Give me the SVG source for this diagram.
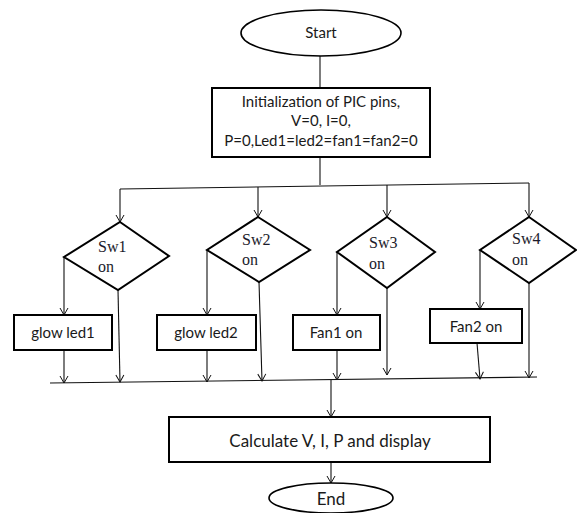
<svg xmlns="http://www.w3.org/2000/svg" width="577" height="513" viewBox="0 0 577 513">
<defs>
<marker id="arr" markerWidth="10" markerHeight="10" refX="5" refY="9" orient="auto" markerUnits="userSpaceOnUse" viewBox="0 0 10 10">
<polyline points="1,2 5,9 9,2" fill="none" stroke="#111" stroke-width="1"/>
</marker>
<marker id="arrv" markerWidth="10" markerHeight="10" refX="9" refY="5" orient="auto" markerUnits="userSpaceOnUse" viewBox="0 0 10 10">
<polyline points="2,1 9,5 2,9" fill="none" stroke="#111" stroke-width="1"/>
</marker>
</defs>
<style>
.shape{fill:#fff;stroke:#000;stroke-width:2}
.term{fill:#fff;stroke:#000;stroke-width:1.6}
.conn{fill:none;stroke:#111;stroke-width:1.1}
.sans{font-family:Lato,"Liberation Sans",sans-serif;fill:#1a1a1a}
.serif{font-family:"Liberation Serif","Times New Roman",serif;fill:#1a1a2a;font-size:16px}
</style>
<rect width="577" height="513" fill="#fff"/>
<g id="connectors">
<line class="conn" x1="320" y1="56" x2="320" y2="88"/>
<line class="conn" x1="320" y1="157" x2="320" y2="185"/>
<polyline class="conn" points="120,189 529,183"/>
<line class="conn" x1="120" y1="189" x2="120" y2="222" marker-end="url(#arrv)"/>
<line class="conn" x1="258" y1="187" x2="258" y2="217" marker-end="url(#arrv)"/>
<line class="conn" x1="387" y1="185" x2="387" y2="217" marker-end="url(#arrv)"/>
<line class="conn" x1="529" y1="183" x2="529" y2="217" marker-end="url(#arrv)"/>
<line class="conn" x1="64" y1="257" x2="64" y2="315" marker-end="url(#arrv)"/>
<line class="conn" x1="207" y1="250" x2="207" y2="315" marker-end="url(#arrv)"/>
<line class="conn" x1="337" y1="252" x2="337" y2="315" marker-end="url(#arrv)"/>
<line class="conn" x1="480" y1="250" x2="480" y2="309" marker-end="url(#arrv)"/>
<line class="conn" x1="118" y1="290" x2="120" y2="382" marker-end="url(#arrv)"/>
<line class="conn" x1="259" y1="282" x2="262" y2="381" marker-end="url(#arrv)"/>
<line class="conn" x1="387" y1="288" x2="387" y2="375" marker-end="url(#arrv)"/>
<line class="conn" x1="529" y1="283" x2="529" y2="378" marker-end="url(#arrv)"/>
<line class="conn" x1="64" y1="350" x2="64" y2="383" marker-end="url(#arrv)"/>
<line class="conn" x1="207" y1="350" x2="207" y2="382" marker-end="url(#arrv)"/>
<line class="conn" x1="337" y1="350" x2="337" y2="380" marker-end="url(#arrv)"/>
<line class="conn" x1="477" y1="343" x2="480" y2="379" marker-end="url(#arrv)"/>
<polyline class="conn" points="50,383 537,377"/>
<line class="conn" x1="331" y1="380" x2="331" y2="417" marker-end="url(#arrv)"/>
<line class="conn" x1="331" y1="462" x2="331" y2="483" marker-end="url(#arrv)"/>
</g>
<g id="start">
<ellipse class="term" cx="321" cy="33" rx="80" ry="23"/>
<text class="sans" x="321" y="38" font-size="15" text-anchor="middle">Start</text>
</g>
<g id="init">
<rect class="shape" x="212" y="88" width="218" height="69"/>
<text class="sans" x="321" y="107" font-size="15" text-anchor="middle">Initialization  of PIC pins,</text>
<text class="sans" x="321" y="126" font-size="15" text-anchor="middle">V=0, I=0,</text>
<text class="sans" x="321" y="146" font-size="15" text-anchor="middle">P=0,Led1=led2=fan1=fan2=0</text>
</g>
<g id="sw1">
<polygon class="shape" points="120,222 169,256 118,290 64,257"/>
<text class="serif" x="98" y="252">Sw1</text>
<text class="serif" x="98" y="272">on</text>
</g>
<g id="sw2">
<polygon class="shape" points="258,217 310,250 259,282 207,250"/>
<text class="serif" x="242" y="245">Sw2</text>
<text class="serif" x="242" y="265">on</text>
</g>
<g id="sw3">
<polygon class="shape" points="387,217 435,252 387,288 337,252"/>
<text class="serif" x="369" y="248">Sw3</text>
<text class="serif" x="369" y="269">on</text>
</g>
<g id="sw4">
<polygon class="shape" points="529,217 576,250 529,283 480,250"/>
<text class="serif" x="512" y="244">Sw4</text>
<text class="serif" x="512" y="265">on</text>
</g>
<g id="led1">
<rect class="shape" x="14" y="315" width="98" height="35"/>
<text class="sans" x="63" y="338" font-size="15" text-anchor="middle">glow led1</text>
</g>
<g id="led2">
<rect class="shape" x="157" y="315" width="99" height="35"/>
<text class="sans" x="206" y="338" font-size="15" text-anchor="middle">glow led2</text>
</g>
<g id="fan1">
<rect class="shape" x="293" y="315" width="87" height="35"/>
<text class="sans" x="336" y="338" font-size="15" text-anchor="middle">Fan1 on</text>
</g>
<g id="fan2">
<rect class="shape" x="430" y="309" width="92" height="34"/>
<text class="sans" x="476" y="332" font-size="15" text-anchor="middle">Fan2 on</text>
</g>
<g id="calc">
<rect class="shape" x="169" y="417" width="321" height="45"/>
<text class="sans" x="330" y="447" font-size="17" text-anchor="middle">Calculate V, I, P and display</text>
</g>
<g id="end">
<ellipse class="term" cx="331" cy="498" rx="62" ry="15"/>
<text class="sans" x="331" y="505" font-size="17" text-anchor="middle">End</text>
</g>
</svg>
